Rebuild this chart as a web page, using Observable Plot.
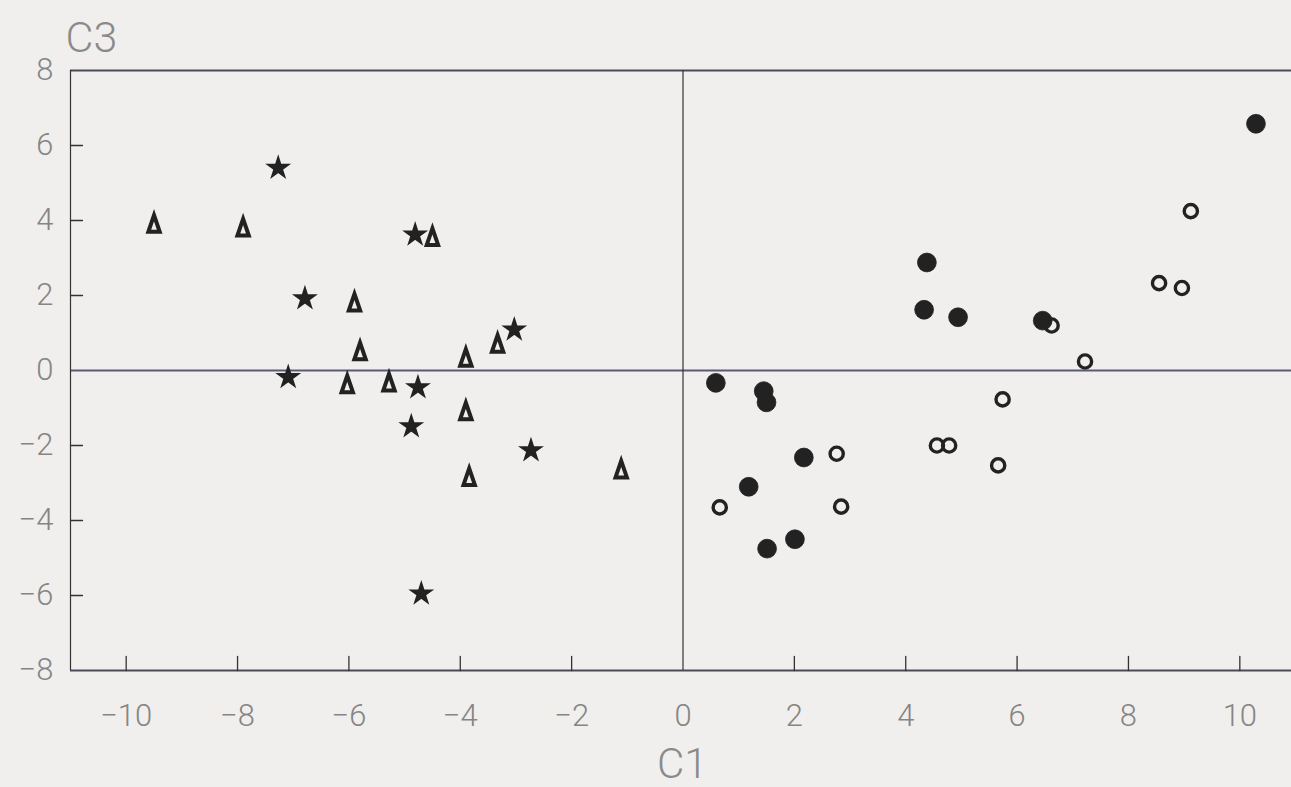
<!DOCTYPE html>
<html><head><meta charset="utf-8">
<script src="https://cdn.jsdelivr.net/npm/d3@7"></script>
<script src="https://cdn.jsdelivr.net/npm/@observablehq/plot@0.6"></script>
<style>
html,body{margin:0;padding:0;background:#f0efed;overflow:hidden;}
#chart svg{display:block;background:transparent;}
</style></head><body><div id="chart"></div>
<script>
// Data: [C1, C3] pairs per group
const triangles = [[-9.5,3.9],[-7.9,3.8],[-4.5,3.55],[-5.9,1.8],[-5.8,0.5],[-3.9,0.33],[-3.33,0.7],
  [-6.03,-0.38],[-5.28,-0.33],[-3.9,-1.1],[-3.84,-2.85],[-1.11,-2.65]];
const stars = [[-7.27,5.4],[-4.81,3.62],[-6.79,1.92],[-3.03,1.09],[-7.09,-0.18],[-4.76,-0.45],
  [-4.88,-1.49],[-2.73,-2.13],[-4.7,-5.95]];
const filledCircles = [[10.29,6.58],[4.38,2.88],[4.33,1.62],[4.94,1.42],[6.46,1.33],[0.59,-0.33],
  [1.45,-0.55],[1.5,-0.85],[2.17,-2.32],[1.18,-3.1],[2.01,-4.5],[1.51,-4.75]];
const openCircles = [[9.12,4.25],[8.55,2.33],[8.96,2.2],[6.62,1.2],[7.22,0.24],[5.74,-0.77],
  [4.56,-2.0],[4.78,-2.0],[2.76,-2.22],[5.66,-2.53],[0.66,-3.65],[2.84,-3.63]];
const xTicks = [-10,-8,-6,-4,-2,2,4,6,8,10];
const xLabels = [-10,-8,-6,-4,-2,0,2,4,6,8,10];
const yTicks = [6,4,2,-2,-4,-6];
const yLabels = [8,6,4,2,0,-2,-4,-6,-8];
const xTitle = "C1", yTitle = "C3";

const tallTriangle = {draw(ctx, size){ const r=Math.sqrt(size/Math.PI);
  ctx.moveTo(0,-0.95*r); ctx.lineTo(0.6*r,0.8*r); ctx.lineTo(-0.6*r,0.8*r); ctx.closePath(); }};
const tickShape = {draw(ctx, l){ ctx.moveTo(0,0); ctx.lineTo(0,-l); }};
const ink = "#222";
const fmt = d => String(d).replace("-", "\u2212");

const chart = Plot.plot({
  width: 1291, height: 787,
  marginLeft: 70, marginTop: 70, marginBottom: 117, marginRight: 0,
  style: {fontFamily: "Roboto, 'Liberation Sans', sans-serif", fontWeight: 300, background: "transparent", overflow: "visible"},
  x: {domain: [-11, 11], range: [70, 1295]},
  y: {domain: [-8, 8]},
  marks: [
    Plot.ruleY([8, -8], {stroke: "#4a4a58", strokeWidth: 2.2}),
    Plot.ruleY([0], {stroke: "#5a5a72", strokeWidth: 2}),
    Plot.ruleX([-11, 0], {stroke: "#333", strokeWidth: 1.2}),
    Plot.vector(xTicks, {x: d => d, y: -8, length: 14, rotate: 0, anchor: "start", shape: tickShape, stroke: "#333", strokeWidth: 1.3}),
    Plot.vector(yTicks, {x: -11, y: d => d, length: 12, rotate: 90, anchor: "start", shape: tickShape, stroke: "#333", strokeWidth: 1.3}),
    Plot.axisX(xLabels, {tickSize: 0, tickPadding: 33, fontSize: 31, fill: "#858585", tickFormat: fmt, label: null}),
    Plot.axisY(yLabels, {tickSize: 0, tickPadding: 17, fontSize: 31, fill: "#858585", tickFormat: fmt, label: null}),
    Plot.text([yTitle], {frameAnchor: "top-left", dx: -5, dy: -32, text: d => d, fontSize: 43, fill: "#8a8a8a", textAnchor: "start", lineAnchor: "middle"}),
    Plot.text([xTitle], {x: 0, y: -8, dx: -26, dy: 94, text: d => d, fontSize: 42, fill: "#8a8a8a", textAnchor: "start", lineAnchor: "middle"}),
    Plot.dot(triangles, {x: d => d[0], y: d => d[1], symbol: tallTriangle, r: 9.5, stroke: ink, strokeWidth: 4, strokeLinejoin: "miter", fill: "none"}),
    Plot.dot(stars, {x: d => d[0], y: d => d[1], symbol: "star", r: 6.5, fill: ink, stroke: ink, strokeWidth: 1.7}),
    Plot.dot(filledCircles, {x: d => d[0], y: d => d[1], symbol: "circle", r: 9.4, fill: ink, stroke: ink, strokeWidth: 0.8}),
    Plot.dot(openCircles, {x: d => d[0], y: d => d[1], symbol: "circle", r: 6.6, fill: "none", stroke: ink, strokeWidth: 3.4})
  ]
});
document.getElementById("chart").append(chart);
</script></body></html>
